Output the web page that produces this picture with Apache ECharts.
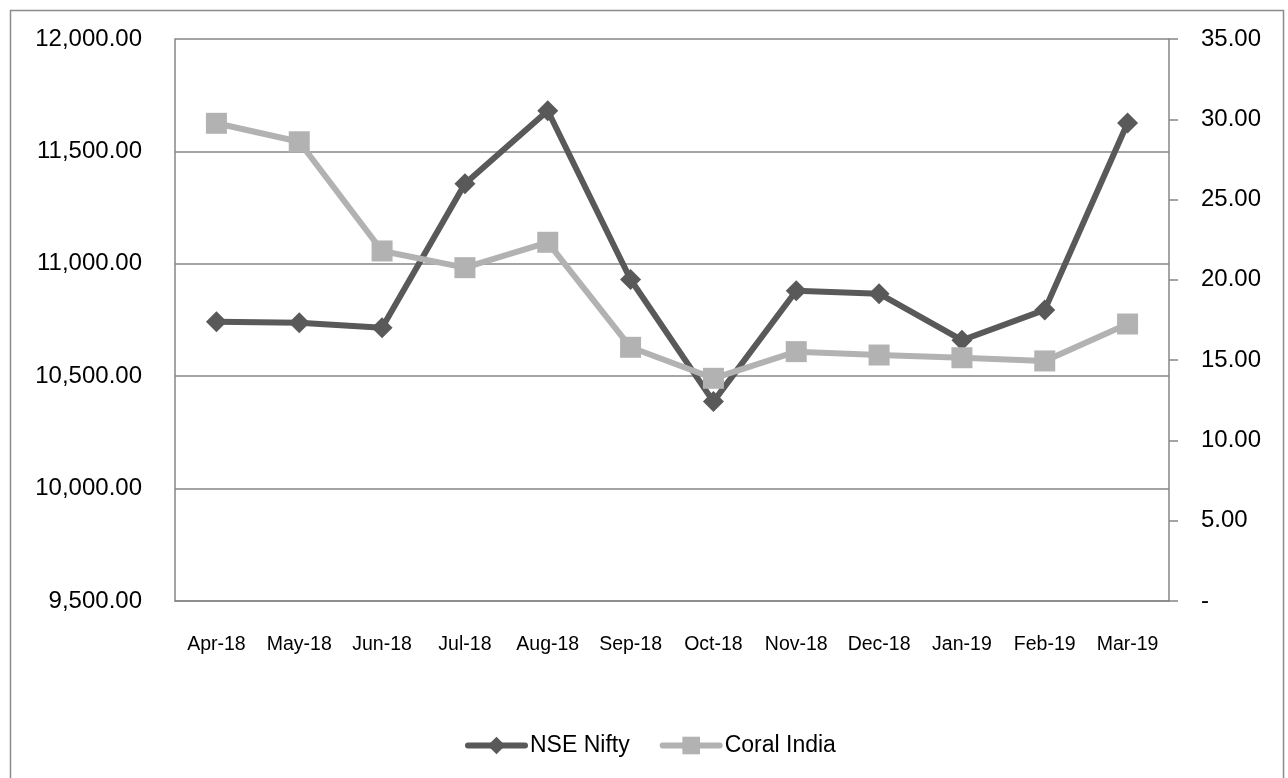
<!DOCTYPE html>
<html>
<head>
<meta charset="utf-8">
<script src="https://cdn.jsdelivr.net/npm/echarts@6/dist/echarts.min.js"></script>
<style>
html,body{margin:0;padding:0;background:#fff;}
#chart{width:1288px;height:778px;}
</style>
</head>
<body>
<div id="chart"></div>
<script>
var categories = ['Apr-18','May-18','Jun-18','Jul-18','Aug-18','Sep-18','Oct-18','Nov-18','Dec-18','Jan-19','Feb-19','Mar-19'];
var nifty = [10742, 10738, 10716, 11356, 11681, 10930, 10387, 10880, 10867, 10660, 10795, 11626];
var coral = [29.75, 28.60, 21.80, 20.76, 22.34, 15.80, 13.87, 15.53, 15.32, 15.15, 14.95, 17.25];
var leftTicks = {min: 9500, max: 12000, interval: 500};
var rightTicks = {min: 0, max: 35, interval: 5};

var chart = echarts.init(document.getElementById('chart'), null, {renderer: 'canvas'});
var FONT = 'Liberation Sans';
function fmtLeft(v){
  return v.toLocaleString('en-US', {minimumFractionDigits: 2, maximumFractionDigits: 2});
}
function fmtRight(v){
  return v === 0 ? '-' : v.toFixed(2);
}
chart.setOption({
  animation: false,
  backgroundColor: '#ffffff',
  graphic: [{
    type: 'rect',
    left: 8, top: 8,
    shape: {width: 1273, height: 800},
    style: {fill: 'none', stroke: '#8c8c8c', lineWidth: 1.5},
    silent: true
  }],
  grid: {left: 175, right: 119, top: 39, bottom: 177, containLabel: false},
  legend: {
    left: 460, top: 729,
    itemWidth: 57, itemHeight: 22, itemGap: 30,
    lineStyle: {width: 6, cap: 'round'},
    textStyle: {fontFamily: FONT, fontSize: 23, color: '#000'},
    data: ['NSE Nifty', 'Coral India']
  },
  xAxis: {
    type: 'category',
    data: categories,
    boundaryGap: true,
    axisLine: {show: true, lineStyle: {color: '#868686', width: 1.5}},
    axisTick: {show: false},
    axisLabel: {fontFamily: FONT, fontSize: 19.5, color: '#000', margin: 34, interval: 0}
  },
  yAxis: [{
    type: 'value',
    min: leftTicks.min, max: leftTicks.max, interval: leftTicks.interval,
    position: 'left',
    axisLine: {show: true, lineStyle: {color: '#868686', width: 1.5}},
    axisTick: {show: false},
    splitLine: {show: true, lineStyle: {color: '#868686', width: 1.5}},
    axisLabel: {fontFamily: FONT, fontSize: 24, color: '#000', margin: 33, formatter: fmtLeft}
  }, {
    type: 'value',
    min: rightTicks.min, max: rightTicks.max, interval: rightTicks.interval,
    position: 'right',
    axisLine: {show: true, lineStyle: {color: '#868686', width: 1.5}},
    axisTick: {show: true, length: 9, lineStyle: {color: '#868686', width: 1.5}},
    splitLine: {show: false},
    axisLabel: {fontFamily: FONT, fontSize: 24, color: '#000', margin: 32, align: 'left', formatter: fmtRight}
  }],
  series: [{
    name: 'NSE Nifty',
    type: 'line',
    yAxisIndex: 0,
    data: nifty,
    symbol: 'diamond',
    symbolSize: 21,
    lineStyle: {color: '#595959', width: 6},
    itemStyle: {color: '#595959'},
    z: 2
  }, {
    name: 'Coral India',
    type: 'line',
    yAxisIndex: 1,
    data: coral,
    symbol: 'rect',
    symbolSize: 21,
    lineStyle: {color: '#b2b2b2', width: 6},
    itemStyle: {color: '#b2b2b2'},
    z: 3
  }]
});
</script>
</body>
</html>
